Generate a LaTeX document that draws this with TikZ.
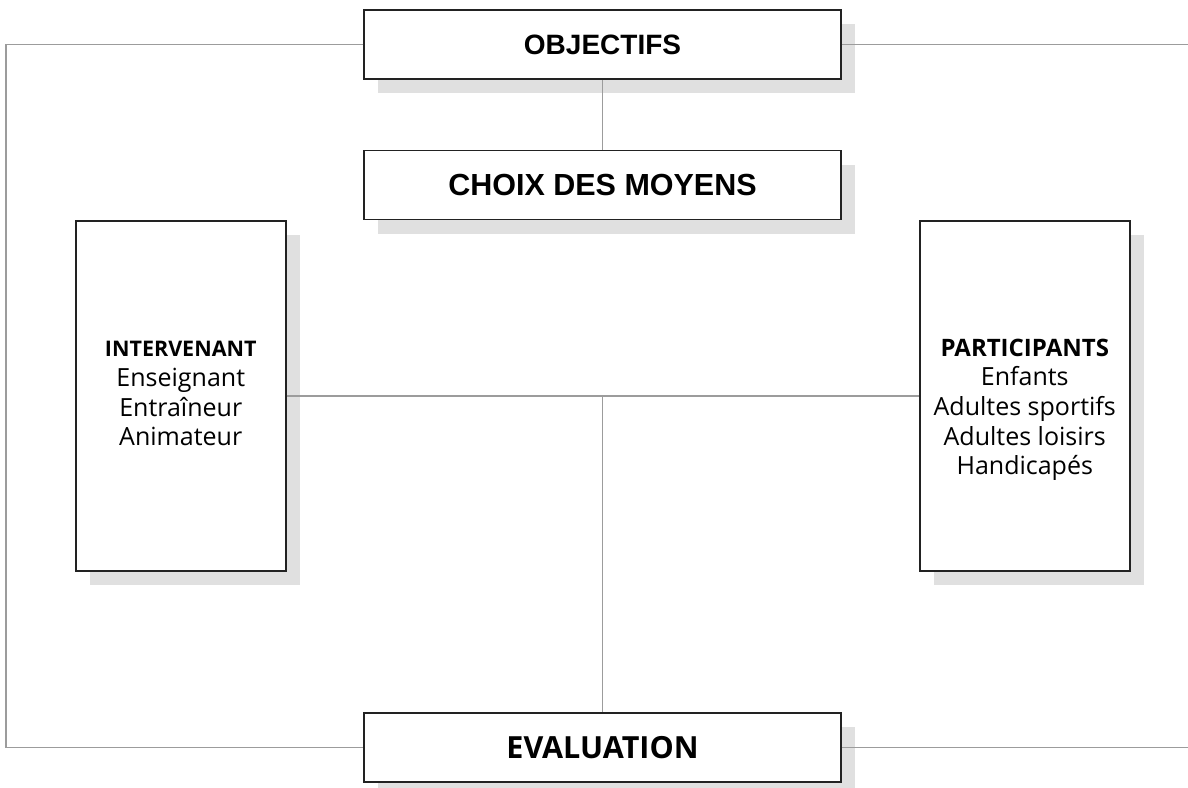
\documentclass[tikz,border=0pt]{standalone}
\usepackage{fontspec}
\setmainfont{Open Sans}
\newfontfamily\hfont{Liberation Sans}
\usetikzlibrary{shadows}
\definecolor{shadowgray}{HTML}{E0E0E0}
\definecolor{linegray}{HTML}{9C9C9C}
\definecolor{boxline}{HTML}{222222}
\tikzset{
  box/.style={draw=boxline, line width=1.5pt, fill=white, inner sep=0pt,
    drop shadow={shadow xshift=14pt, shadow yshift=-14pt, fill=shadowgray, opacity=1}},
  headbox/.style={box, minimum width=477pt, minimum height=69pt},
  sidebox/.style={box, minimum width=210pt, minimum height=350pt},
  sidetext/.style={inner sep=0pt, anchor=north, align=center,
    font=\fontsize{25}{29.7}\selectfont},
  sidehead/.style={},
  conn/.style={draw=linegray, line width=1.5pt},
}
\newcommand{\sidehd}[2]{{\fontsize{#1}{29.7}\selectfont\bfseries #2}}
\begin{document}
\begin{tikzpicture}[x=1pt,y=-1pt]
\useasboundingbox (0,0) rectangle (1188,787);
\node[headbox, font=\hfont\bfseries\fontsize{28}{30}\selectfont] (O) at (602.5,44.5) {OBJECTIFS};
\node[headbox, font=\hfont\bfseries\fontsize{30.5}{32}\selectfont] (C) at (602.5,185) {CHOIX DES MOYENS};
\node[headbox, font=\bfseries\fontsize{30.5}{32}\selectfont] (E) at (602.5,747.5) {EVALUATION};
\node[sidebox] (I) at (180.75,396) {};
\node[sidebox] (P) at (1024.75,396) {};
\node[sidetext] (It) at (180.75,341) {\sidehd{21.5}{INTERVENANT}\\Enseignant\\Entraîneur\\Animateur};
\node[sidetext] (Pt) at (1024.75,338.5) {\sidehd{24}{PARTICIPANTS}\\Enfants\\Adultes sportifs\\Adultes loisirs\\Handicapés};
\coordinate (tl) at (6,44.5);
\coordinate (bl) at (6,747.5);
\coordinate (tr) at (1188,44.5);
\coordinate (br) at (1188,747.5);
\coordinate (mid) at (602.5,396);
\draw[conn] (O.west) -- (tl) -- (bl) -- (E.west);
\draw[conn] (O.east) -- (tr);
\draw[conn] (E.east) -- (br);
\draw[conn] (O.south) -- (C.north);
\draw[conn] (I.east) -- (P.west);
\draw[conn] (mid) -- (E.north);
\end{tikzpicture}
\end{document}
